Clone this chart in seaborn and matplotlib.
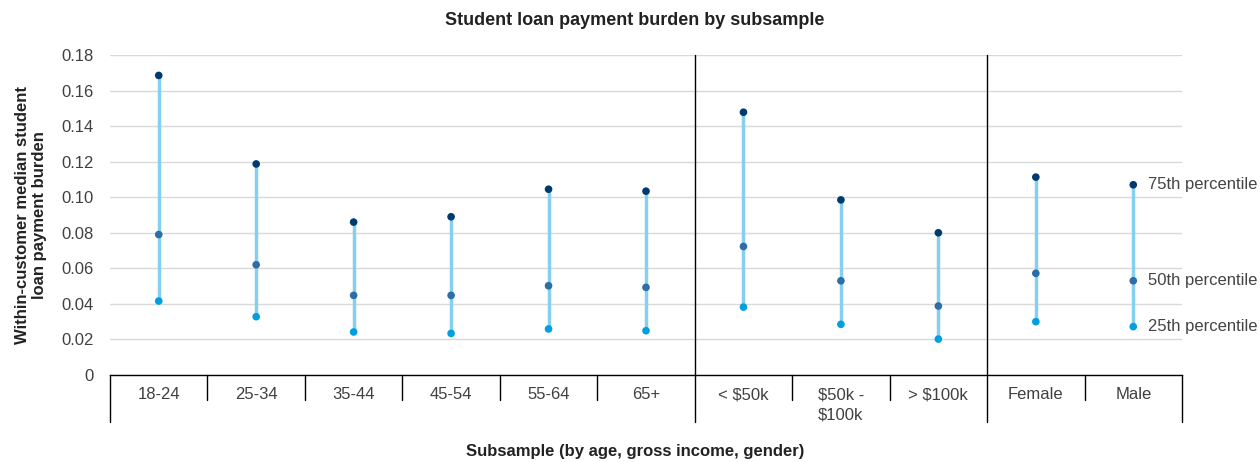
import matplotlib
matplotlib.use('Agg')
import matplotlib.pyplot as plt
import seaborn as sns
import pandas as pd

categories = ['18-24', '25-34', '35-44', '45-54', '55-64', '65+',
              '< $50k', '$50k -\n$100k', '> $100k', 'Female', 'Male']
p75 = [0.1685, 0.1187, 0.0860, 0.0890, 0.1045, 0.1034, 0.1478, 0.0985, 0.0800, 0.1113, 0.1070]
p50 = [0.0790, 0.0620, 0.0448, 0.0448, 0.0502, 0.0493, 0.0723, 0.0530, 0.0388, 0.0572, 0.0530]
p25 = [0.0416, 0.0328, 0.0242, 0.0234, 0.0259, 0.0249, 0.0382, 0.0285, 0.0202, 0.0300, 0.0272]
group_breaks = [5.5, 8.5]
pct_labels = ['75th percentile', '50th percentile', '25th percentile']
pct_colors = ['#003b70', '#2d6ea6', '#00a0e0']

df = pd.DataFrame({'cat': categories * 3,
                   'value': p75 + p50 + p25,
                   'pct': [pct_labels[0]] * 11 + [pct_labels[1]] * 11 + [pct_labels[2]] * 11})

sns.set_theme(style='white')
plt.rcParams['font.family'] = ['Liberation Sans', 'DejaVu Sans']

fig = plt.figure(figsize=(12.6, 4.62), dpi=100)
ax = fig.add_axes([0.0873, 0.1883, 0.8508, 0.6927])

ax.vlines(range(len(categories)), p25, p75, color='#86cff0', lw=2.5, zorder=2)
sns.stripplot(data=df, x='cat', y='value', hue='pct', palette=pct_colors,
              jitter=False, size=5.5, linewidth=0, legend=False, ax=ax, zorder=3)

ax.set_ylim(0, 0.18)
ax.set_xlim(-0.5, len(categories) - 0.5)
yt = [i * 0.02 for i in range(10)]
ax.set_yticks(yt)
ax.set_yticklabels(['0'] + ['%.2f' % v for v in yt[1:]], fontsize=12, color='#404040')
ax.yaxis.grid(True, color='#d9d9d9', lw=1)
ax.tick_params(axis='y', length=0, pad=12)
for s in ['top', 'right', 'left']:
    ax.spines[s].set_visible(False)
ax.spines['bottom'].set_color('black')
ax.spines['bottom'].set_linewidth(1)
ax.set_xticks([])
ax.set_xlabel('')

tr = ax.get_xaxis_transform()
for i, c in enumerate(categories):
    ax.text(i, -0.038, c, transform=tr, ha='center', va='top', fontsize=12,
            color='#404040', linespacing=1.45)
for b in [i + 0.5 for i in range(len(categories) - 1)]:
    if b in group_breaks:
        ax.plot([b, b], [-0.147, 1], transform=tr, color='black', lw=1, clip_on=False)
    else:
        ax.plot([b, b], [-0.078, 0], transform=tr, color='black', lw=1, clip_on=False)
for b in [-0.5, len(categories) - 0.5]:
    ax.plot([b, b], [-0.147, 0], transform=tr, color='black', lw=1, clip_on=False)

last = len(categories) - 1
for lab, v in zip(pct_labels, [p75[last], p50[last], p25[last]]):
    ax.text(last + 0.15, v, lab, ha='left', va='center', fontsize=12, color='#444444',
            clip_on=False)

ax.set_ylabel('Within-customer median student\nloan payment burden', fontsize=12,
              fontweight='bold', color='#222222', labelpad=10)
fig.text(0.504, 0.022, 'Subsample (by age, gross income, gender)', ha='center',
         va='center', fontsize=12, fontweight='bold', color='#222222')
fig.text(0.504, 0.955, 'Student loan payment burden by subsample', ha='center',
         va='center', fontsize=13, fontweight='bold', color='#222222')

fig.savefig('out.png', dpi=100)
